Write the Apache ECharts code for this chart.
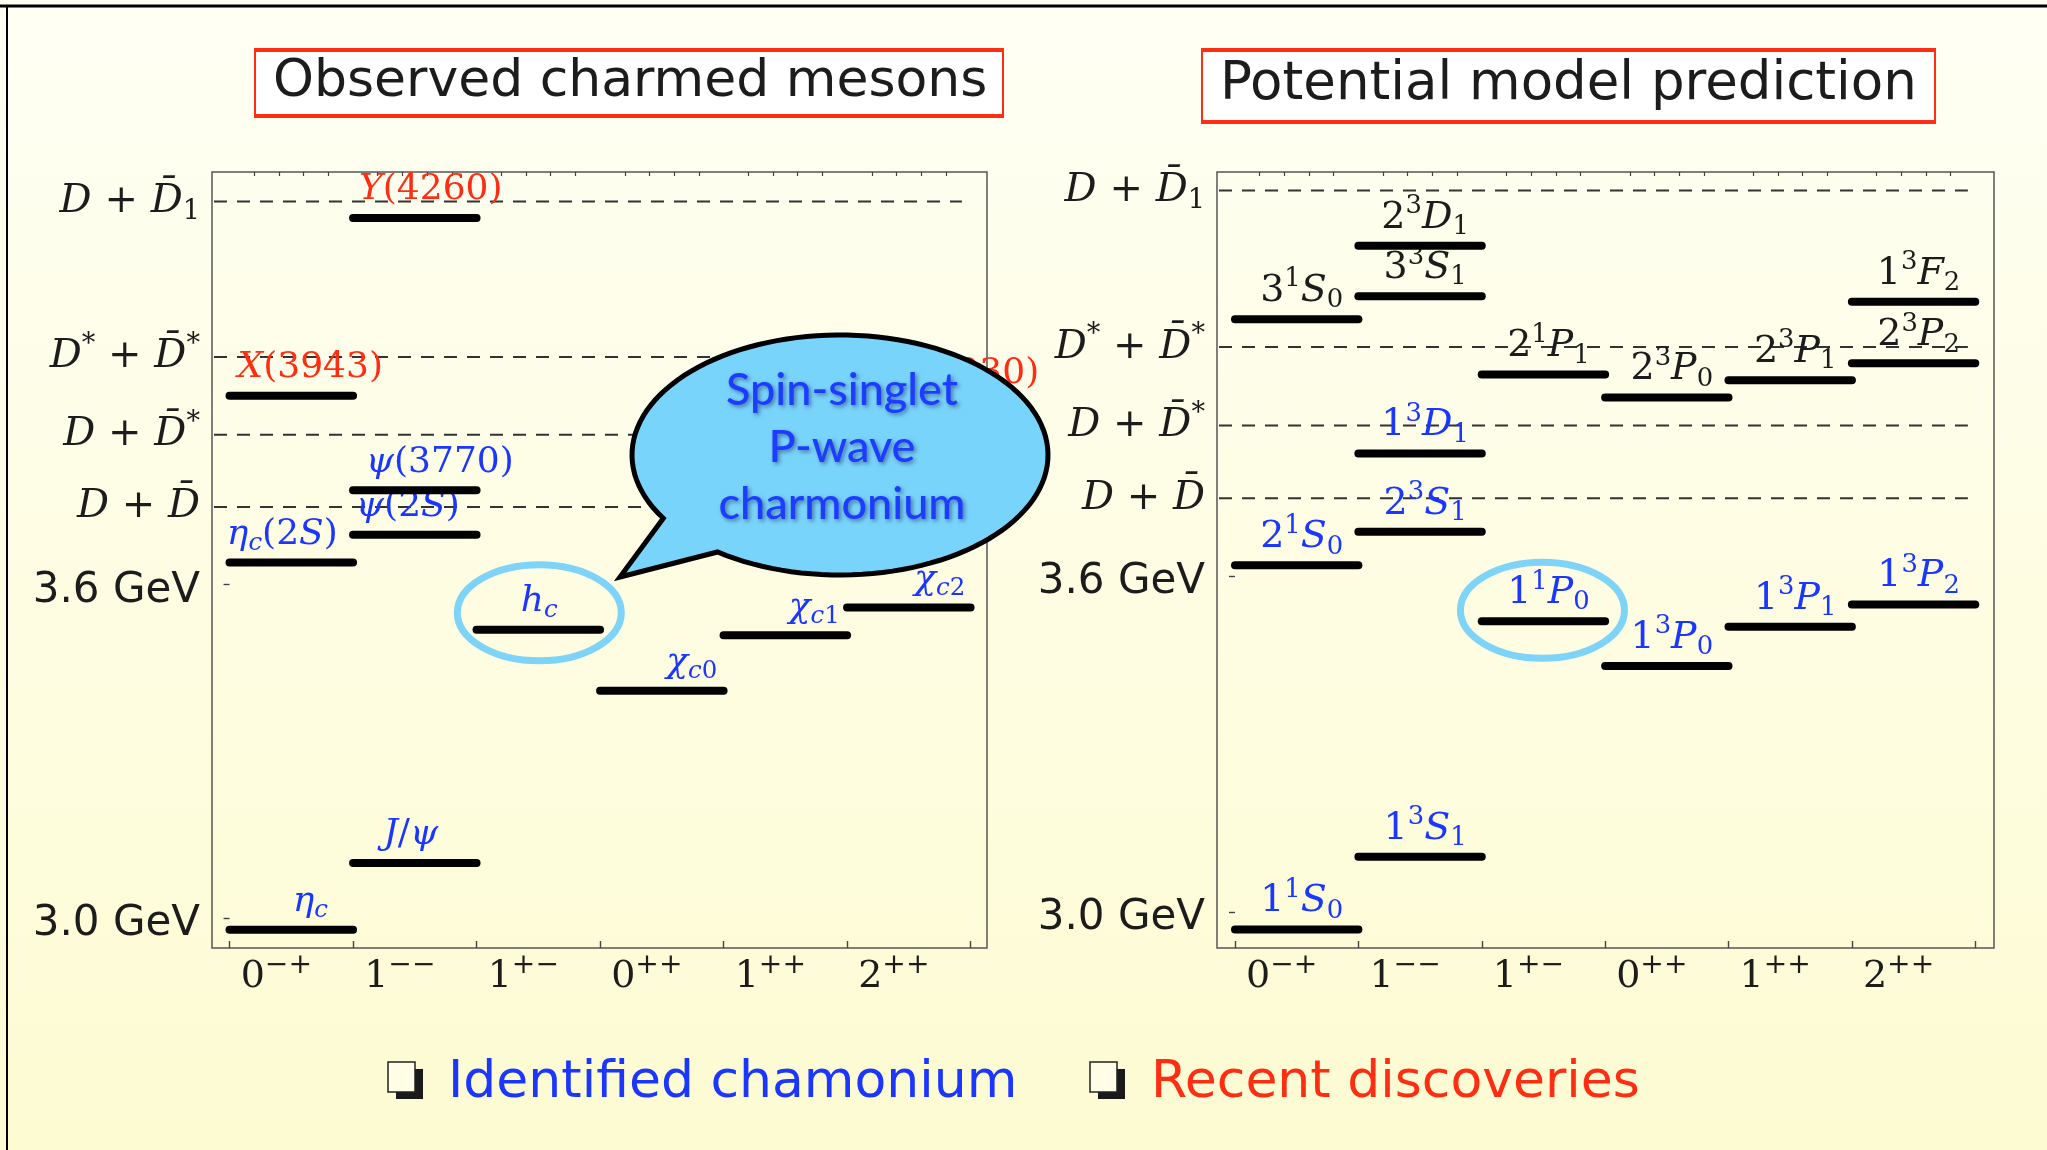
<!DOCTYPE html>
<html><head><meta charset="utf-8">
<script src="https://cdn.jsdelivr.net/npm/echarts@6/dist/echarts.min.js"></script>
<style>html,body{margin:0;padding:0;overflow:hidden;background:#fffef0}#c{width:2047px;height:1150px}</style>
</head><body><div id="c"></div>
<script>
// ---------------- data ----------------
const jpcNames = ['0^{−+}', '1^{−−}', '1^{+−}', '0^{++}', '1^{++}', '2^{++}'];
const gevTickValues = [3.0, 3.6];
const gevTickLabels = ['3.0 GeV', '3.6 GeV'];
const thresholdNames = ['D + D\u0304', 'D + D\u0304^*', 'D^* + D\u0304^*', 'D + D\u0304_1'];
const thresholdMass = [3.740, 3.870, 4.010, 4.290];

const obsNames  = ['η_c', 'J/ψ', 'η_c(2S)', 'ψ(2S)', 'ψ(3770)', 'X(3943)', 'Y(4260)', 'h_c', 'χ_{c0}', 'χ_{c1}', 'χ_{c2}', 'Z(3930)'];
const obsJPC    = [0, 1, 0, 1, 1, 0, 1, 2, 3, 4, 5, 5];
const obsMass   = [2.979, 3.099, 3.640, 3.690, 3.770, 3.940, 4.260, 3.519, 3.409, 3.509, 3.559, 3.930];
const obsRecent = [0, 0, 0, 0, 0, 1, 1, 0, 0, 0, 0, 1];

const predNames = ['1^1S_0', '2^1S_0', '3^1S_0', '1^3S_1', '2^3S_1', '1^3D_1', '3^3S_1', '2^3D_1', '1^1P_0', '2^1P_1', '1^3P_0', '2^3P_0', '1^3P_1', '2^3P_1', '1^3P_2', '2^3P_2', '1^3F_2'];
const predJPC   = [0, 0, 0, 1, 1, 1, 1, 1, 2, 2, 3, 3, 4, 4, 5, 5, 5];
const predMass  = [2.969, 3.620, 4.060, 3.099, 3.680, 3.820, 4.101, 4.191, 3.520, 3.961, 3.440, 3.920, 3.510, 3.951, 3.550, 3.981, 4.091];
const predSeen  = [1, 1, 0, 1, 1, 1, 0, 0, 1, 0, 1, 0, 1, 0, 1, 0, 0];

// ---------------- styling / layout ----------------
const BLUE = '#1a36ff', RED = '#ff2d12', INK = '#1c1c1c';
const obsLabelDx = [19, -4, -9, -7, 25, 19, 16, 1, 30, 29, 31, 58];
const SERIF = 'DejaVu Serif';

function richStyles(F, col, supScale) {
  const s = (supScale || 0.68) * F;
  const base = (size, italic, pad) => ({
    fontFamily: SERIF, fontSize: size, fontStyle: italic ? 'italic' : 'normal',
    color: col, fill: col, verticalAlign: 'middle', padding: pad
  });
  return {
    i: base(F, true, [0, 0, 0, 0]),
    n: base(F, false, [0, 0, 0, 0]),
    si: base(s, true, [F * 0.5, 0, 0, 0]),
    sn: base(s, false, [F * 0.5, 0, 0, 0]),
    pi: base(s, true, [0, 0, F * 0.6, 0]),
    pn: base(s, false, [0, 0, F * 0.6, 0])
  };
}

function richify(str) {
  let out = '';
  const cls = (ch, pre) => pre + (/[A-Za-z\u03b1-\u03c9\u0391-\u03a9]/.test(ch) ? 'i' : 'n');
  function emit(txt, pre) {
    let cur = '', curC = null;
    for (const ch of txt) {
      const c = ch === '\u0304' ? curC : cls(ch, pre);
      if (c !== curC && cur) { out += '{' + curC + '|' + cur + '}'; cur = ''; }
      curC = c; cur += ch;
    }
    if (cur) out += '{' + curC + '|' + cur + '}';
  }
  let i = 0;
  while (i < str.length) {
    const ch = str[i];
    if (ch === '_' || ch === '^') {
      const pre = ch === '_' ? 's' : 'p';
      let grp;
      if (str[i + 1] === '{') { const j = str.indexOf('}', i); grp = str.slice(i + 2, j); i = j + 1; }
      else { grp = str[i + 1]; i += 2; }
      emit(grp, pre);
    } else {
      let j = i;
      while (j < str.length && str[j] !== '_' && str[j] !== '^') j++;
      emit(str.slice(i, j), ''); i = j;
    }
  }
  return out;
}

const minorTicks = [];
for (let c = 0; c < 6; c++) for (let s = 1; s < 5; s++) minorTicks.push(c + s / 5);

function xAxes(grid, min, max) {
  return [{
    gridIndex: grid, type: 'value', min: min, max: max,
    axisLine: { show: false }, splitLine: { show: false },
    axisTick: { show: true, inside: true, length: 7, customValues: [0, 1, 2, 3, 4, 5, 6], lineStyle: { color: '#444', width: 1.4 } },
    axisLabel: { show: true, margin: 4, padding: [0, 30, 0, 0], customValues: [0.5, 1.5, 2.5, 3.5, 4.5, 5.5],
      formatter: v => richify(jpcNames[Math.floor(v)]), rich: richStyles(38, INK, 0.74) }
  }, {
    gridIndex: grid, type: 'value', min: min, max: max,
    axisLine: { show: false }, splitLine: { show: false },
    axisTick: { show: true, inside: true, length: 4, customValues: minorTicks, lineStyle: { color: '#444', width: 1.2 } },
    axisLabel: { show: false }
  }];
}

function yFormatter(v) {
  for (let k = 0; k < gevTickValues.length; k++) if (Math.abs(v - gevTickValues[k]) < 1e-6) return '{g|' + gevTickLabels[k] + '}';
  for (let k = 0; k < thresholdMass.length; k++) if (Math.abs(v - thresholdMass[k]) < 1e-6) return richify(thresholdNames[k]);
  return '';
}
function yAxis(grid, min, max) {
  const rich = richStyles(40, INK);
  rich.g = { fontFamily: 'DejaVu Sans', fontSize: 42, color: INK, verticalAlign: 'middle', padding: [12, 0, 0, 0] };
  return {
    gridIndex: grid, type: 'value', min: min, max: max,
    axisLine: { show: false }, splitLine: { show: false },
    axisTick: { show: true, inside: false, length: 6, customValues: gevTickValues, lineStyle: { color: '#444', width: 1.4 } },
    axisLabel: { margin: 12, customValues: gevTickValues.concat(thresholdMass), formatter: yFormatter, rich: rich }
  };
}

function levelSeries(names, jpc, mass, colorOf, dxOf, xIdx, yIdx, F) {
  return {
    type: 'custom', xAxisIndex: xIdx, yAxisIndex: yIdx, z: 5, clip: false,
    data: mass.map((m, k) => [jpc[k], m]),
    renderItem(params, api) {
      const k = params.dataIndex;
      const c = api.value(0), m = api.value(1);
      const a = api.coord([c, m]), b = api.coord([c + 1, m]);
      const col = colorOf(k);
      return { type: 'group', children: [
        { type: 'line', shape: { x1: a[0], y1: a[1], x2: b[0], y2: b[1] }, style: { stroke: '#000', lineWidth: 8, lineCap: 'round' } },
        { type: 'text', x: (a[0] + b[0]) / 2 + dxOf(k), y: a[1] - 28,
          style: { text: richify(names[k]), rich: richStyles(F, col), fill: col, align: 'center', verticalAlign: 'middle' } }
      ] };
    }
  };
}
function thresholdSeries(xIdx, yIdx, xEnd) {
  return {
    type: 'custom', xAxisIndex: xIdx, yAxisIndex: yIdx, z: 3,
    data: thresholdMass.map(m => [0, m]),
    renderItem(params, api) {
      const m = api.value(1);
      const cs = params.coordSys;
      const y = api.coord([0, m])[1];
      const xe = api.coord([xEnd, m])[0];
      return { type: 'line', shape: { x1: cs.x + 2, y1: y, x2: xe, y2: y }, style: { stroke: '#333', lineWidth: 2, lineDash: [13, 10] } };
    }
  };
}

const chart = echarts.init(document.getElementById('c'), null, { renderer: 'canvas' });
const titleBox = (text, left, pad, size) => ({
  text: text, left: left, top: 49, padding: pad,
  textStyle: { fontFamily: 'DejaVu Sans', fontSize: size, fontWeight: 'normal', color: INK, lineHeight: 52 },
  borderColor: '#ff2d12', borderWidth: 2, backgroundColor: '#ffffff',
  shadowColor: '#ff2d12', shadowOffsetY: 2, shadowBlur: 0
});

chart.setOption({
  animation: false,
  title: [
    titleBox('Observed charmed mesons', 255, [7, 16, 7, 18], 52),
    titleBox('Potential model prediction', 1202, [10, 18, 10, 18], 53)
  ],
  grid: [
    { left: 212, top: 172, width: 775, height: 776, show: true, borderColor: '#555', borderWidth: 1.5, backgroundColor: 'transparent' },
    { left: 1217, top: 172, width: 777, height: 776, show: true, borderColor: '#555', borderWidth: 1.5, backgroundColor: 'transparent' }
  ],
  xAxis: xAxes(0, -0.142, 6.133).concat(xAxes(1, -0.146, 6.152)),
  yAxis: [yAxis(0, 2.946, 4.343), yAxis(1, 2.936, 4.323)],
  series: [
    thresholdSeries(0, 0, 5.93),
    levelSeries(obsNames, obsJPC, obsMass, k => obsRecent[k] ? RED : BLUE, k => obsLabelDx[k], 0, 0, 36),
    thresholdSeries(2, 1, 5.94),
    levelSeries(predNames, predJPC, predMass, k => predSeen[k] ? BLUE : INK, k => 5, 2, 1, 38)
  ]
});

// ---------------- annotations ----------------
const hcL = obsNames.indexOf('h_c');
const pL = chart.convertToPixel({ seriesIndex: 1 }, [obsJPC[hcL] + 0.5, obsMass[hcL]]);
const hcR = predNames.indexOf('1^1P_0');
const pR = chart.convertToPixel({ seriesIndex: 3 }, [predJPC[hcR] + 0.5, predMass[hcR]]);

// speech bubble outline: ellipse with a tail
const bub = { cx: 840, cy: 455, rx: 208, ry: 120 };
const a1 = Math.atan2(0.517, -0.832), a2 = Math.atan2(0.792, -0.577) + 2 * Math.PI;
const bubblePts = [];
for (let t = 0; t <= 120; t++) {
  const a = a1 + (a2 - a1) * t / 120;
  bubblePts.push([bub.cx + bub.rx * Math.cos(a), bub.cy + bub.ry * Math.sin(a)]);
}
bubblePts.push([620, 577]);

const icon = (x, y) => ([
  { type: 'rect', shape: { x: x + 8, y: y + 7, width: 27, height: 30 }, style: { fill: '#1a1a1a' }, z: 20 },
  { type: 'rect', shape: { x: x, y: y, width: 27, height: 30 }, style: { fill: '#fffde6', stroke: '#222', lineWidth: 1.5 }, z: 21 }
]);

chart.setOption({
  graphic: [
    { type: 'rect', shape: { x: 0, y: 0, width: 2047, height: 1150 }, z: -100, silent: true,
      style: { fill: new echarts.graphic.LinearGradient(0, 0, 0, 1, [{ offset: 0, color: '#fffff4' }, { offset: 1, color: '#fdfbd2' }]) } },
    { type: 'line', shape: { x1: 0, y1: 6, x2: 2047, y2: 6 }, style: { stroke: '#000', lineWidth: 3 }, z: 30 },
    { type: 'line', shape: { x1: 7, y1: 5, x2: 7, y2: 1150 }, style: { stroke: '#000', lineWidth: 2 }, z: 30 },
    { type: 'ellipse', shape: { cx: pL[0] + 1, cy: pL[1] - 17, rx: 82, ry: 48 }, style: { fill: 'none', stroke: '#7dd3f8', lineWidth: 7 }, z: 40 },
    { type: 'ellipse', shape: { cx: pR[0] - 1, cy: pR[1] - 11, rx: 82, ry: 48 }, style: { fill: 'none', stroke: '#7dd3f8', lineWidth: 7 }, z: 40 },
    { type: 'polygon', shape: { points: bubblePts },
      style: { fill: '#78d4fb', stroke: '#000', lineWidth: 5, lineJoin: 'miter' }, z: 100 },
    { type: 'text', x: 842, y: 447, z: 101,
      style: { text: 'Spin-singlet\nP-wave\ncharmonium', font: '500 45px Lato', lineHeight: 57, fill: '#1e3cff',
        align: 'center', verticalAlign: 'middle',
        textShadowColor: 'rgba(0,0,60,0.45)', textShadowBlur: 4, textShadowOffsetX: 2, textShadowOffsetY: 2 } },
    ...icon(388, 1062),
    { type: 'text', x: 448, y: 1083, z: 21, style: { text: 'Identified chamonium', font: '52px "DejaVu Sans"', fill: BLUE, verticalAlign: 'middle' } },
    ...icon(1090, 1062),
    { type: 'text', x: 1151, y: 1083, z: 21, style: { text: 'Recent discoveries', font: '52px "DejaVu Sans"', fill: RED, verticalAlign: 'middle' } }
  ]
});
</script></body></html>
